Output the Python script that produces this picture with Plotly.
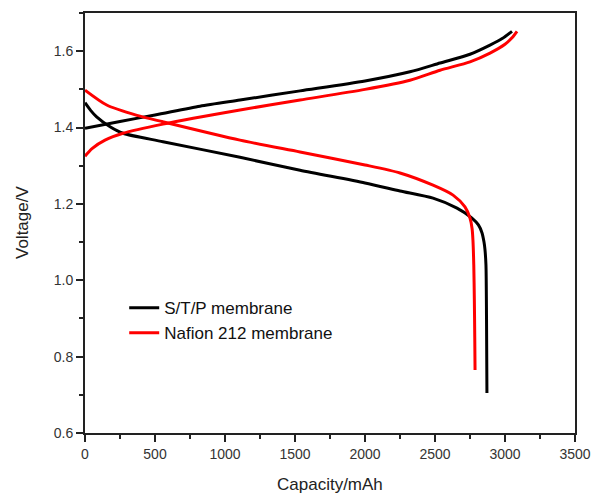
import plotly.graph_objects as go

# S/T/P membrane (black)
stp_charge_x = [0, 250, 500, 821, 1107, 1536, 2000, 2321, 2536, 2750, 2893, 2980, 3050]
stp_charge_y = [1.398, 1.416, 1.433, 1.456, 1.472, 1.496, 1.522, 1.546, 1.569, 1.592, 1.616, 1.633, 1.652]
stp_dis_x = [0, 40, 83, 179, 271, 557, 1107, 1536, 2000, 2250, 2486, 2657, 2764, 2810, 2836, 2850, 2857, 2864, 2868, 2871]
stp_dis_y = [1.465, 1.445, 1.428, 1.402, 1.385, 1.363, 1.322, 1.288, 1.255, 1.234, 1.215, 1.189, 1.163, 1.145, 1.124, 1.100, 1.080, 1.040, 0.900, 0.705]

# Nafion 212 membrane (red)
naf_charge_x = [0, 50, 143, 271, 557, 1107, 1536, 2000, 2321, 2536, 2750, 2893, 3000, 3050, 3086]
naf_charge_y = [1.325, 1.345, 1.367, 1.385, 1.409, 1.446, 1.472, 1.500, 1.524, 1.550, 1.572, 1.595, 1.618, 1.635, 1.652]
naf_dis_x = [0, 155, 371, 557, 1107, 1536, 2000, 2250, 2486, 2629, 2714, 2750, 2765, 2771, 2777, 2781, 2784, 2786]
naf_dis_y = [1.498, 1.459, 1.432, 1.415, 1.367, 1.336, 1.302, 1.281, 1.249, 1.223, 1.192, 1.163, 1.135, 1.105, 1.040, 0.950, 0.850, 0.765]

x_ticks = [0, 500, 1000, 1500, 2000, 2500, 3000, 3500]
y_ticks = [0.6, 0.8, 1.0, 1.2, 1.4, 1.6]

fig = go.Figure()
fig.add_trace(go.Scatter(
    x=stp_charge_x + [None] + stp_dis_x,
    y=stp_charge_y + [None] + stp_dis_y,
    mode="lines", name="S/T/P membrane", legendgroup="a",
    line=dict(color="#000000", width=3, shape="spline", smoothing=0.7)))
fig.add_trace(go.Scatter(
    x=naf_charge_x + [None] + naf_dis_x,
    y=naf_charge_y + [None] + naf_dis_y,
    mode="lines", name="Nafion 212 membrane", legendgroup="b",
    line=dict(color="#ff0000", width=3, shape="spline", smoothing=0.7)))

font = "Arial, Liberation Sans, sans-serif"
axis_common = dict(showgrid=False, zeroline=False, showline=True, linecolor="#222222",
                   linewidth=2, mirror=True, ticks="outside", ticklen=7, tickwidth=2,
                   tickcolor="#222222", tickfont=dict(size=14, color="#333333"),
                   automargin=False)
fig.update_layout(
    width=591, height=495,
    margin=dict(l=85, r=16, t=13, b=62),
    paper_bgcolor="white", plot_bgcolor="white",
    font=dict(family=font, color="#222222"),
    showlegend=True,
    legend=dict(x=0.08, y=0.34, xanchor="left", yanchor="top",
                bgcolor="rgba(0,0,0,0)", font=dict(size=17, color="#111111"),
                tracegroupgap=4, traceorder="normal"),
    xaxis=dict(range=[0, 3500], tickvals=x_ticks, ticktext=[str(v) for v in x_ticks],
               minor=dict(dtick=250, ticks="outside", ticklen=4, tickwidth=2, tickcolor="#222222"),
               **axis_common),
    yaxis=dict(range=[0.6, 1.7], tickvals=y_ticks, ticktext=["0.6", "0.8", "1.0", "1.2", "1.4", "1.6"],
               minor=dict(dtick=0.1, ticks="outside", ticklen=4, tickwidth=2, tickcolor="#222222"),
               **axis_common),
)
# axis titles placed as annotations (page pixel positions -> paper coordinates)
pw, ph = 490, 420
fig.add_annotation(text="Capacity/mAh", x=(330 - 85) / pw, y=(433 - 484) / ph,
                   xref="paper", yref="paper", showarrow=False,
                   xanchor="center", yanchor="middle",
                   font=dict(size=17, color="#222222"))
fig.add_annotation(text="Voltage/V", x=(22 - 85) / pw, y=(433 - 223) / ph,
                   xref="paper", yref="paper", showarrow=False, textangle=-90,
                   xanchor="center", yanchor="middle",
                   font=dict(size=17, color="#222222"))

# remove the default 8px body margin so the figure fills the window exactly
fig.write_html("out.html", config={"displayModeBar": False},
               post_script="document.body.style.margin='0';")
